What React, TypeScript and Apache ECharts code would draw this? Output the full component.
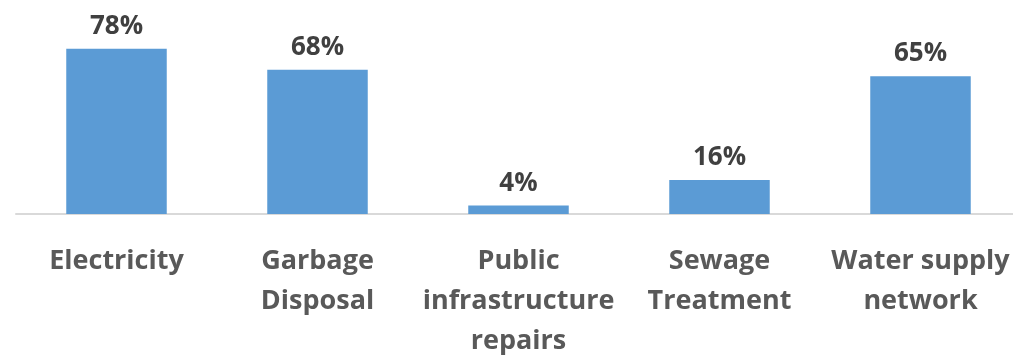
import React, { useEffect, useRef } from "react";
import * as echarts from "echarts";

const categories = [
  "Electricity",
  "Garbage\nDisposal",
  "Public\ninfrastructure\nrepairs",
  "Sewage\nTreatment",
  "Water supply\nnetwork",
];
const values = [78, 68, 4, 16, 65];

export default function App() {
  const ref = useRef<HTMLDivElement>(null);
  useEffect(() => {
    if (!ref.current) return;
    const chart = echarts.init(ref.current, null, { renderer: "svg" });
    chart.setOption({
      animation: false,
      grid: { left: 16, right: 0, top: 2, bottom: 138, containLabel: false },
      xAxis: {
        type: "category",
        data: categories,
        axisLine: { lineStyle: { color: "#d9d9d9", width: 2 } },
        axisTick: { show: false },
        axisLabel: {
          interval: 0,
          margin: 24,
          color: "#595959",
          fontFamily: "Open Sans",
          fontWeight: "bold",
          fontSize: 27,
          lineHeight: 40,
        },
      },
      yAxis: {
        type: "value",
        min: 0,
        max: 100,
        show: false,
        splitLine: { show: false },
      },
      series: [
        {
          type: "bar",
          data: values,
          barWidth: "50%",
          itemStyle: { color: "#5b9bd5" },
          label: {
            show: true,
            position: "top",
            distance: 12,
            formatter: "{c}%",
            color: "#404040",
            fontFamily: "Open Sans",
            fontWeight: "bold",
            fontSize: 26,
          },
        },
      ],
    });
    return () => chart.dispose();
  }, []);
  return (
    <div
      style={{
        position: "fixed",
        left: 0,
        top: 0,
        width: 1013,
        height: 358,
        overflow: "hidden",
      }}
    >
      <div ref={ref} style={{ width: 1021, height: 358 }} />
    </div>
  );
}
